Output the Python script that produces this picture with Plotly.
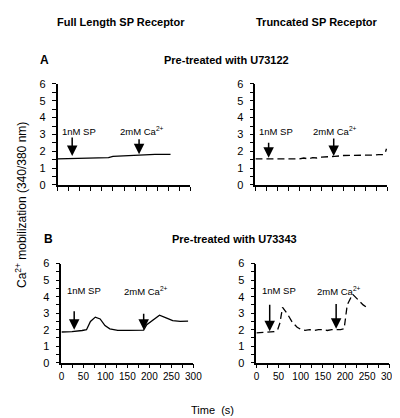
import plotly.graph_objects as go

# ---- data ----
t_a_full = [0, 20, 40, 60, 80, 100, 115, 125, 140, 155, 165, 180, 200, 220, 240, 255]
v_a_full = [1.55, 1.56, 1.58, 1.6, 1.6, 1.61, 1.62, 1.7, 1.72, 1.73, 1.78, 1.8, 1.8, 1.81, 1.82, 1.82]

t_a_trunc = [0, 20, 40, 60, 80, 100, 110, 120, 130, 140, 150, 160, 170, 180, 190, 200, 220, 240, 260, 280, 290, 295, 298]
v_a_trunc = [1.55, 1.55, 1.55, 1.55, 1.56, 1.55, 1.6, 1.55, 1.62, 1.6, 1.65, 1.68, 1.68, 1.7, 1.72, 1.75, 1.76, 1.75, 1.77, 1.8, 1.8, 1.9, 2.15]

t_b_full = [0, 24, 47, 57, 66, 77, 88, 99, 110, 128, 150, 170, 187, 194, 209, 223, 238, 253, 270, 288]
v_b_full = [1.86, 1.88, 1.95, 2.0, 2.5, 2.76, 2.65, 2.25, 2.05, 1.96, 1.96, 1.96, 1.97, 2.3, 2.6, 2.88, 2.72, 2.55, 2.5, 2.52]

t_b_trunc = [0, 22, 40, 48, 53, 59, 70, 81, 92, 100, 110, 120, 130, 140, 150, 160, 170, 180, 190, 198, 205, 217, 230, 241, 252]
v_b_trunc = [1.8, 1.85, 1.88, 2.0, 2.4, 3.35, 2.95, 2.45, 2.15, 2.02, 1.96, 2.0, 1.95, 2.0, 2.0, 1.95, 2.0, 2.0, 2.0, 2.05, 3.5, 4.15, 3.8, 3.5, 3.3]

x_ticks = [0, 50, 100, 150, 200, 250, 300]
y_ticks = [0, 1, 2, 3, 4, 5, 6]

# arrow positions: (time, tip value, tail value) per panel
arrows = {
    "A_full": [(33, 1.72, 2.9), (184, 1.82, 2.8)],
    "A_trunc": [(30, 1.62, 2.6), (178, 1.72, 2.85)],
    "B_full": [(29, 2.0, 3.2), (187, 2.0, 3.05)],
    "B_trunc": [(30, 1.9, 3.6), (180, 2.05, 3.65)],
}
labels = {
    "A_full": [(6, 3.2), (136, 3.2)],
    "A_trunc": [(4, 3.2), (126, 3.2)],
    "B_full": [(7, 4.35), (137, 4.35)],
    "B_trunc": [(7, 4.35), (132, 4.35)],
}
label_text = ["1nM SP", "2mM Ca<sup>2+</sup>"]

FONT = "Liberation Sans, Arial, Helvetica, sans-serif"
W, H = 400, 418

panels = [
    ("A_full", t_a_full, v_a_full, "solid", (48, 185), (176, 72), False),
    ("A_trunc", t_a_trunc, v_a_trunc, "7px,4px", (252, 388), (176, 72), False),
    ("B_full", t_b_full, v_b_full, "solid", (52, 188), (359, 257), True),
    ("B_trunc", t_b_trunc, v_b_trunc, "7px,4px", (253, 390), (359, 257), True),
]

fig = go.Figure()
layout = {}
annotations = []

for i, (key, t, v, dash, (x0, x1), (yb, yt), show_xlabels) in enumerate(panels, start=1):
    xa = "x" if i == 1 else f"x{i}"
    ya = "y" if i == 1 else f"y{i}"
    fig.add_trace(go.Scatter(x=t, y=v, mode="lines", xaxis=xa, yaxis=ya,
                             line=dict(color="black", width=1.3, dash=dash),
                             showlegend=False, hoverinfo="skip"))
    xname = "xaxis" if i == 1 else f"xaxis{i}"
    yname = "yaxis" if i == 1 else f"yaxis{i}"
    layout[xname] = dict(
        domain=[x0 / W, x1 / W], anchor=ya, range=[0, 300],
        showline=True, linecolor="black", linewidth=1.5,
        showgrid=False, zeroline=False,
        tickmode="array", tickvals=x_ticks,
        ticktext=[str(x) for x in x_ticks] if show_xlabels else [""] * len(x_ticks),
        ticks="outside", ticklen=4, tickwidth=1.3, tickcolor="black",
        minor=dict(dtick=25, tick0=0, ticks="outside", ticklen=4, tickwidth=1.3, tickcolor="black"),
        tickfont=dict(family=FONT, size=10, color="black"),
        fixedrange=True,
    )
    layout[yname] = dict(
        domain=[1 - yb / H, 1 - yt / H], anchor=xa, range=[0, 6],
        showline=True, linecolor="black", linewidth=1.5,
        showgrid=False, zeroline=False,
        tickmode="array", tickvals=y_ticks,
        ticks="outside", ticklen=4, tickwidth=1.3, tickcolor="black",
        minor=dict(dtick=0.5, tick0=0, ticks="outside", ticklen=4, tickwidth=1.3, tickcolor="black"),
        tickfont=dict(family=FONT, size=11, color="black"),
        ticklabelstandoff=4,
        fixedrange=True,
    )
    for (tx, tip, tail) in arrows[key]:
        annotations.append(dict(
            x=tx, y=tip, ax=tx, ay=tail, xref=xa, yref=ya, axref=xa, ayref=ya,
            text="", showarrow=True, arrowhead=2, arrowsize=1.4, arrowwidth=1.5,
            arrowcolor="black"))
    for (lx, ly), txt in zip(labels[key], label_text):
        annotations.append(dict(
            x=lx, y=ly, xref=xa, yref=ya, text=txt, showarrow=False,
            xanchor="left", yanchor="middle",
            font=dict(family=FONT, size=9.5, color="black")))

def paper_text(x, y, text, size, bold=False, **kw):
    annotations.append(dict(
        x=x / W, y=1 - y / H, xref="paper", yref="paper",
        text=f"<b>{text}</b>" if bold else text, showarrow=False,
        xanchor="center", yanchor="middle",
        font=dict(family=FONT, size=size, color="black"), **kw))

paper_text(113, 8, "Full Length SP Receptor", 11, bold=True)
paper_text(315, 8, "Truncated SP Receptor", 11, bold=True)
paper_text(35, 47, "A", 12, bold=True)
paper_text(222, 47, "Pre-treated with U73122", 11, bold=True)
paper_text(39, 232, "B", 12, bold=True)
paper_text(230, 232, "Pre-treated with U73343", 11, bold=True)
paper_text(208, 408, "Time  (s)", 11)
paper_text(11, 197, "Ca<sup>2+</sup> mobilization (340/380 nm)", 12, textangle=-90)

fig.update_layout(
    width=W, height=H, margin=dict(l=0, r=0, t=0, b=0),
    paper_bgcolor="white", plot_bgcolor="white",
    annotations=annotations, **layout)

fig.write_html("out.html")
